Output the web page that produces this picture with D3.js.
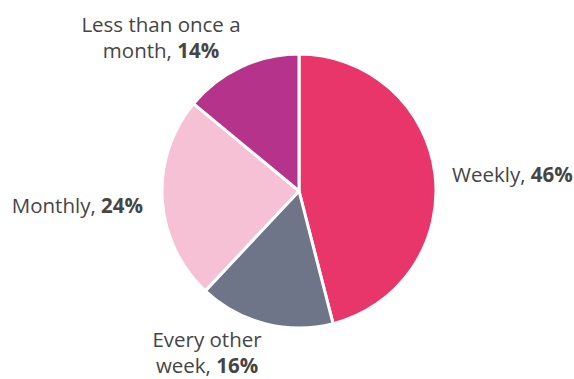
<!DOCTYPE html>
<html>
<head>
<meta charset="utf-8">
<script src="https://cdn.jsdelivr.net/npm/d3@7"></script>
<style>
  body { margin: 0; background: #fff; }
  svg { display: block; }
</style>
</head>
<body>
<svg width="574" height="379"></svg>
<script>
var categories = ['Weekly', 'Every other week', 'Monthly', 'Less than once a month'];
var values = [46, 16, 24, 14];
var colors = ['#E8356A', '#6E7588', '#F6C1D4', '#B5338A'];
// label lines (last line holds the bold percentage)
var labelLines = [['Weekly,'], ['Every other', 'week,'], ['Monthly,'], ['Less than once a', 'month,']];

var width = 574, height = 379;
var cx = 299, cy = 191, radius = 137;

var svg = d3.select('svg');
var g = svg.append('g').attr('transform', 'translate(' + [cx, cy] + ')');

var data = categories.map((c, i) => ({name: c, value: values[i], color: colors[i], lines: labelLines[i]}));

var pie = d3.pie().sort(null).value(d => d.value);
var arc = d3.arc().innerRadius(0).outerRadius(radius);
var arcs = pie(data);

g.selectAll('path')
  .data(arcs).enter().append('path')
  .attr('d', arc)
  .attr('fill', d => d.data.color)
  .attr('stroke', 'white')
  .attr('stroke-width', 3)
  .attr('stroke-linejoin', 'round');

// label placement: anchor and position per slice
var labelPos = [
  {x: 452, y: 182, anchor: 'start'},
  {x: 207, y: 347, anchor: 'middle'},
  {x: 143, y: 213, anchor: 'end'},
  {x: 161, y: 32, anchor: 'middle'}
];
var lineHeight = 26;

var labels = svg.selectAll('text.lbl')
  .data(arcs).enter().append('text')
  .attr('class', 'lbl')
  .attr('font-family', '"Open Sans", sans-serif')
  .attr('font-size', 20.5)
  .attr('fill', '#454545')
  .attr('text-anchor', (d, i) => labelPos[i].anchor);

labels.each(function(d, i) {
  var t = d3.select(this);
  var p = labelPos[i];
  d.data.lines.forEach((line, j) => {
    t.append('tspan')
      .attr('x', p.x)
      .attr('y', p.y + j * lineHeight)
      .text(line);
    if (j === d.data.lines.length - 1) {
      t.append('tspan').text(' ');
      t.append('tspan').attr('font-weight', 'bold').text(d.data.value + '%');
    }
  });
});
</script>
</body>
</html>
